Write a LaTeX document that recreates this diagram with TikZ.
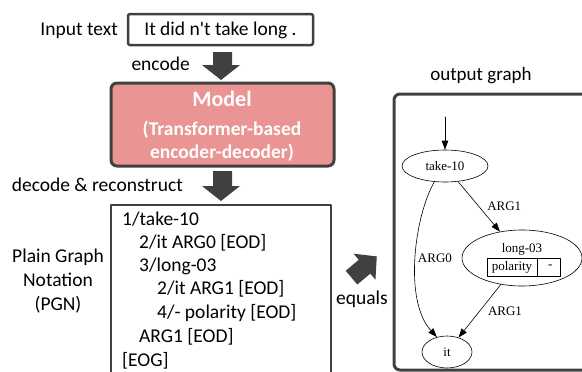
\documentclass[tikz,border=0pt]{standalone}
\usepackage{fontspec}
\setmainfont{Carlito}
\newfontfamily\graphfont{Liberation Serif}
\usepackage{tikz}
\usetikzlibrary{arrows.meta,shapes.geometric}
\definecolor{ddgray}{rgb}{0.25,0.25,0.25}
\definecolor{modelred}{rgb}{0.918,0.58,0.58}
\tikzset{
  stage/.style={draw=ddgray,line width=2.5pt},
  blockarrow/.style={fill=ddgray},
  caption/.style={font=\fontsize{19.5}{24}\selectfont,inner sep=0pt},
  pgnline/.style={font=\fontsize{19.5}{24}\selectfont,anchor=west,inner sep=0pt},
  gnode/.style={draw,ellipse,line width=0.6pt,inner sep=0pt,font=\graphfont\fontsize{13}{15}\selectfont},
  gedge/.style={draw,line width=0.6pt,-{Triangle[length=9pt,width=6.5pt]}},
  glabel/.style={font=\graphfont\fontsize{13}{15}\selectfont,inner sep=0pt}
}

\begin{document}
\begin{tikzpicture}[line cap=round,line join=round,x=1pt,y=-1pt]
\clip (0,0) rectangle (582,372);

% input sentence
\node[caption,anchor=east] (inlabel) at (118,31) {Input text};
\draw[stage,rounded corners=2pt] (128,14) rectangle (313,45);
\node[caption] (intext) at (220.5,30) {It did n\textquotesingle t take long .};

% encode
\node[caption,anchor=east] (enclabel) at (190,64) {encode};
\fill[blockarrow] (213,52) -- (232,52) -- (232,65) -- (240,65) -- (221,80) -- (202,65) -- (213,65) -- cycle;

% the model
\draw[stage,line width=3pt,fill=modelred,rounded corners=6pt] (111,83) rectangle (334,166);
\node[font=\fontsize{22}{24}\selectfont\bfseries,text=white] (model) at (222,99) {Model};
\node[font=\fontsize{19.5}{23}\selectfont\bfseries,text=white,align=center] (modeldesc) at (222,141)
  {(Transformer-based\\ encoder-decoder)};

% decode
\node[caption,anchor=east] (declabel) at (183,185) {decode \& reconstruct};
\fill[blockarrow] (213,171) -- (232,171) -- (232,186) -- (240,186) -- (221,201) -- (202,186) -- (213,186) -- cycle;

% plain graph notation
\node[caption,align=center] (pgnlabel) at (58,281) {Plain Graph\\ Notation\\ (PGN)};
\draw[stage] (111,205) rectangle (331,400);
\node[pgnline] (p1) at (122,219) {1/take-10};
\node[pgnline] (p2) at (139,243) {2/it ARG0 [EOD]};
\node[pgnline] (p3) at (139,266) {3/long-03};
\node[pgnline] (p4) at (157,289) {2/it ARG1 [EOD]};
\node[pgnline] (p5) at (157,313) {4/- polarity [EOD]};
\node[pgnline] (p6) at (139,337) {ARG1 [EOD]};
\node[pgnline] (p7) at (122,361) {[EOG]};

% equals
\begin{scope}[shift={(363,268)},rotate=40]
\fill[blockarrow] (-15,-9) -- (2,-9) -- (2,-17) -- (18,0) -- (2,17) -- (2,9) -- (-15,9) -- cycle;
\end{scope}
\node[caption] (eqlabel) at (362,299) {equals};

% output graph
\node[caption,font=\fontsize{19}{22}\selectfont] (outlabel) at (481,76) {output graph};
\draw[stage,line width=3pt,rounded corners=6pt] (394,94) rectangle (620,370);

\node[gnode,minimum width=86pt,minimum height=32pt] (take) at (445,166) {take-10};
\node[gnode,minimum width=120pt,minimum height=56pt] (long) at (522,258) {};
\node[glabel] (longname) at (522,249) {long-03};
\node[draw,line width=0.6pt,minimum width=50pt,minimum height=18pt,inner sep=0pt,font=\graphfont\fontsize{13}{15}\selectfont] (pol) at (512,267) {polarity};
\node[draw,line width=0.6pt,minimum width=23pt,minimum height=18pt,inner sep=0pt,anchor=west,font=\graphfont\fontsize{13}{15}\selectfont] (polval) at (pol.east) {\,-\hfill};
\node[gnode,minimum width=50pt,minimum height=32pt] (it) at (447,352) {it};

\coordinate (root) at (445,117);
\draw[gedge] (root) -- (take);
\draw[gedge] (take.236) .. controls (415,215) and (403,300) .. (it.124)
  node[glabel,pos=0.5,right=2pt] {ARG0};
\draw[gedge] (take) -- (long) node[glabel,pos=0.5,right=8pt] {ARG1};
\draw[gedge] (long) -- (it) node[glabel,pos=0.5,right=8pt] {ARG1};
\end{tikzpicture}
\end{document}
